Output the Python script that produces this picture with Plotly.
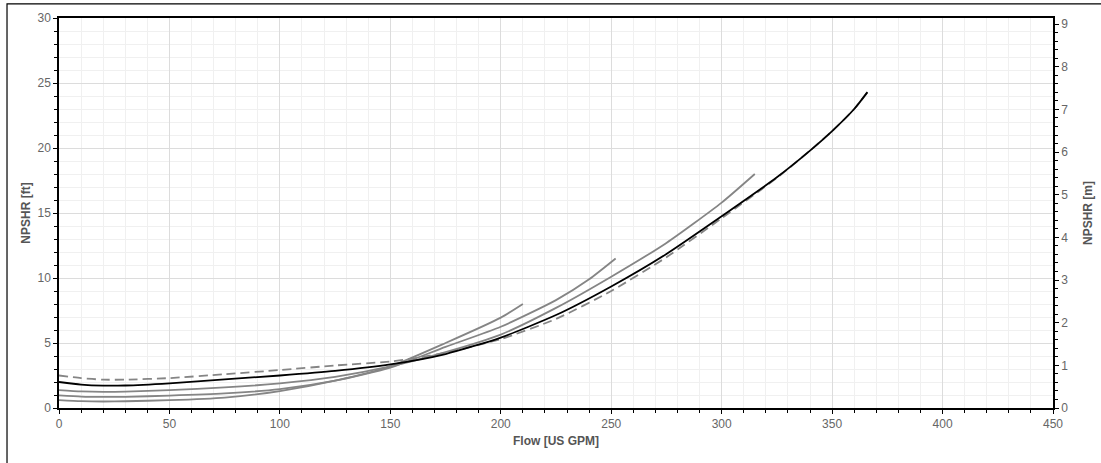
import plotly.graph_objects as go

# Flow [US GPM] and NPSHR [ft]
flow_dashed = [0, 10, 20, 30, 50, 75, 100, 125, 150, 160, 175, 200, 225, 250, 275, 300, 325, 340, 350, 360, 366]
npsh_dashed = [2.5, 2.3, 2.18, 2.18, 2.3, 2.6, 2.92, 3.27, 3.58, 3.8, 4.25, 5.3, 6.85, 9.0, 11.6, 14.6, 17.7, 19.8, 21.3, 23.0, 24.3]

flow_black = [0, 10, 20, 30, 50, 75, 100, 125, 150, 175, 200, 225, 250, 275, 300, 325, 340, 350, 360, 366]
npsh_black = [2.0, 1.8, 1.72, 1.73, 1.9, 2.2, 2.5, 2.85, 3.35, 4.15, 5.42, 7.15, 9.35, 11.85, 14.75, 17.75, 19.8, 21.3, 23.0, 24.3]

flow_g1 = [0, 10, 20, 30, 50, 75, 100, 125, 150, 175, 200, 210]
npsh_g1 = [0.61, 0.53, 0.5, 0.52, 0.6, 0.8, 1.3, 2.1, 3.2, 5.0, 6.95, 8.0]

flow_g2 = [0, 10, 20, 30, 50, 75, 100, 125, 150, 175, 200, 225, 240, 252]
npsh_g2 = [0.97, 0.88, 0.85, 0.86, 0.95, 1.12, 1.45, 2.1, 3.1, 4.7, 6.25, 8.3, 9.9, 11.5]

flow_g3 = [0, 10, 20, 30, 50, 75, 100, 125, 150, 175, 200, 225, 250, 275, 300, 315]
npsh_g3 = [1.38, 1.28, 1.24, 1.26, 1.38, 1.58, 1.9, 2.4, 3.2, 4.3, 5.65, 7.7, 10.1, 12.7, 15.8, 18.0]

FT_PER_M = 3.28084
GRAY = "#858585"
SPL = dict(shape="spline", smoothing=0.6)

fig = go.Figure()
for fx, fy in [(flow_g1, npsh_g1), (flow_g2, npsh_g2), (flow_g3, npsh_g3)]:
    fig.add_trace(go.Scatter(x=fx, y=fy, mode="lines", line=dict(color=GRAY, width=1.8, **SPL),
                             showlegend=False, hoverinfo="skip"))
fig.add_trace(go.Scatter(x=flow_dashed, y=npsh_dashed, mode="lines",
                         line=dict(color=GRAY, width=1.8, dash="9px,5px", **SPL),
                         showlegend=False, hoverinfo="skip"))
fig.add_trace(go.Scatter(x=flow_black, y=npsh_black, mode="lines",
                         line=dict(color="black", width=1.8, **SPL),
                         showlegend=False, hoverinfo="skip"))
# invisible trace for the metre axis
fig.add_trace(go.Scatter(x=[None], y=[None], yaxis="y2", showlegend=False, hoverinfo="skip"))

tickfont = dict(family="Liberation Sans, Arial, sans-serif", size=12, color="#666666")
titlefont = dict(family="Liberation Sans, Arial, sans-serif", size=12, color="#555555", weight="bold")

fig.update_layout(
    width=1101, height=463,
    margin=dict(l=59, r=48, t=18, b=55),
    paper_bgcolor="white", plot_bgcolor="white",
    xaxis=dict(range=[0, 450], dtick=50, tick0=0, showgrid=True, gridcolor="#dcdcdc", gridwidth=1,
               minor=dict(dtick=10, showgrid=True, gridcolor="#f0f0f0", ticks="outside", ticklen=3, tickcolor="black"),
               ticks="outside", ticklen=4, tickcolor="black", showline=True, linecolor="black", linewidth=1.5,
               mirror=True, zeroline=False, tickfont=tickfont, automargin=False,
               title=dict(text="Flow [US GPM]", font=titlefont, standoff=6)),
    yaxis=dict(range=[0, 30], dtick=5, tick0=0, showgrid=True, gridcolor="#dcdcdc", gridwidth=1,
               minor=dict(dtick=1, showgrid=True, gridcolor="#f0f0f0", ticks="outside", ticklen=3, tickcolor="black"),
               ticks="outside", ticklen=4, tickcolor="black", showline=True, linecolor="black", linewidth=1.5,
               mirror=True, zeroline=False, tickfont=tickfont, automargin=False,
               title=dict(text="NPSHR [ft]", font=titlefont, standoff=4)),
    yaxis2=dict(range=[0, 30 / FT_PER_M], overlaying="y", side="right", dtick=1, tick0=0, showgrid=False,
                minor=dict(dtick=0.2, ticks="outside", ticklen=3, tickcolor="black"),
                ticks="outside", ticklen=4, tickcolor="black", showline=True, linecolor="black", linewidth=1.5,
                zeroline=False, tickfont=tickfont, automargin=False,
                title=dict(text="NPSHR [m]", font=titlefont, standoff=16)),
    shapes=[dict(type="rect", xref="paper", yref="paper", x0=-0.0523, x1=1.2, y0=-0.5, y1=1.036,
                 line=dict(color="black", width=1.2), fillcolor="rgba(0,0,0,0)", layer="below")],
)

fig.write_html("out.html", config={"displayModeBar": False},
               post_script="document.body.style.margin='0';document.body.style.padding='0';")
